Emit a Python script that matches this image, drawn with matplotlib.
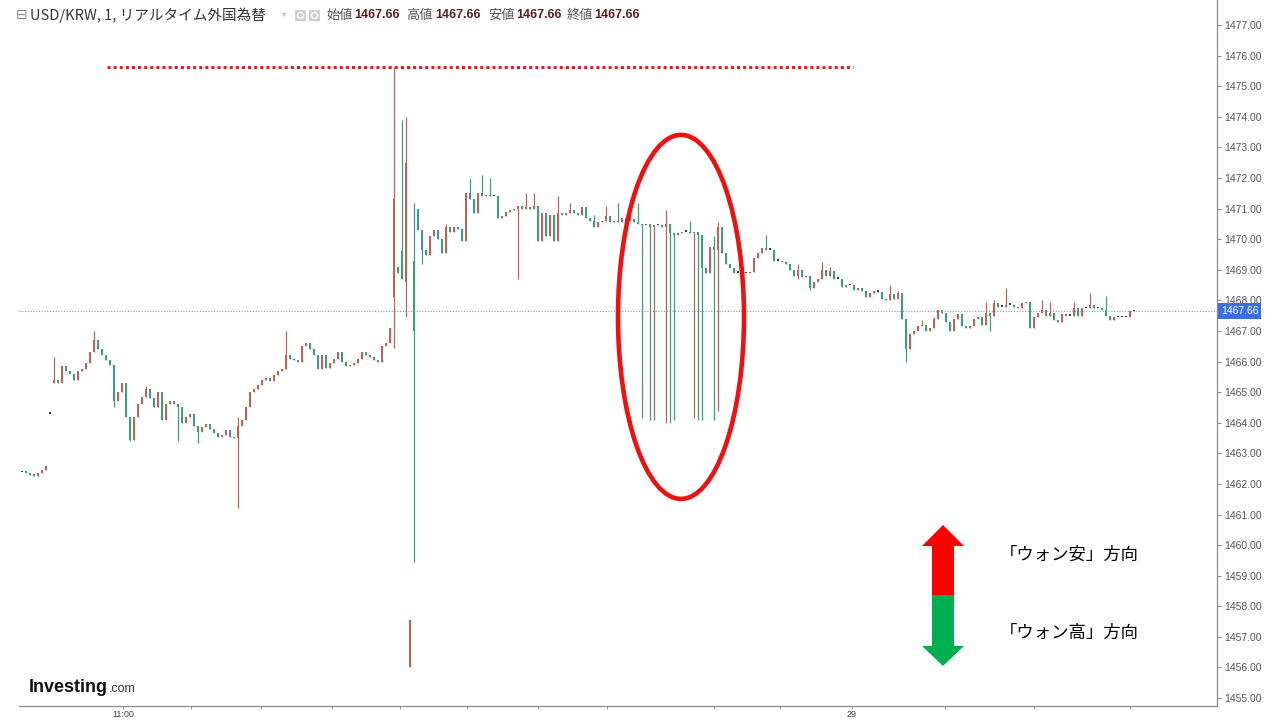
import matplotlib

matplotlib.use("Agg")

import matplotlib.pyplot as plt
import numpy as np
from matplotlib.patches import Ellipse, Polygon, Rectangle
from matplotlib.transforms import blended_transform_factory, offset_copy

# 1-minute USD/KRW closes left to right
closes = [
    1462.38, 1462.36, 1462.30, 1462.26, 1462.36, 1462.44, 1462.60, 1464.30, 1465.40, 1465.30,
    1465.85, 1465.70, 1465.60, 1465.40, 1465.70, 1465.75, 1465.95, 1466.30, 1466.70, 1466.40,
    1466.20, 1466.05, 1465.90, 1464.70, 1465.00, 1465.30, 1464.20, 1463.45, 1464.20, 1464.60,
    1464.85, 1465.10, 1464.80, 1464.50, 1465.00, 1464.10, 1464.60, 1464.70, 1464.60, 1464.50,
    1464.00, 1464.20, 1464.30, 1463.90, 1463.70, 1463.85, 1463.95, 1463.80, 1463.65, 1463.55,
    1463.60, 1463.75, 1463.55, 1463.50, 1463.90, 1464.10, 1464.50, 1465.00, 1465.10, 1465.25,
    1465.40, 1465.45, 1465.35, 1465.55, 1465.70, 1465.75, 1466.20, 1466.10, 1466.05, 1466.00,
    1466.50, 1466.60, 1466.40, 1466.20, 1465.75, 1466.20, 1465.80, 1465.95, 1466.10, 1466.30,
    1466.00, 1465.85, 1465.90, 1465.95, 1466.10, 1466.30, 1466.20, 1466.15, 1466.05, 1466.00,
    1466.50, 1466.60, 1467.10, 1471.30, 1468.90, 1468.70, 1472.50, 1457.55, 1467.00, 1470.30,
    1469.65, 1469.50, 1470.10, 1470.30, 1470.00, 1469.55, 1470.40, 1470.25, 1470.40, 1470.35,
    1469.95, 1471.50, 1471.30, 1470.85, 1471.50, 1471.40, 1471.45, 1471.40, 1471.40, 1470.70,
    1470.75, 1470.90, 1470.95, 1471.00, 1471.10, 1471.00, 1471.05, 1471.00, 1471.10, 1469.95,
    1470.85, 1470.10, 1470.80, 1469.95, 1470.85, 1470.80, 1470.85, 1470.95, 1470.85, 1470.80,
    1471.05, 1470.70, 1470.60, 1470.40, 1470.55, 1470.60, 1470.75, 1470.55, 1470.60, 1470.55,
    1470.70, 1470.60, 1470.65, 1470.55, 1470.50, 1470.45, 1470.50, 1470.40, 1470.45, 1470.45,
    1470.40, 1470.50, 1470.20, 1470.15, 1470.20, 1470.25, 1470.25, 1470.20, 1470.25, 1470.15,
    1469.05, 1468.90, 1469.75, 1469.65, 1470.40, 1469.55, 1469.20, 1469.05, 1468.90, 1468.90,
    1468.90, 1468.88, 1468.92, 1469.40, 1469.55, 1469.70, 1469.65, 1469.65, 1469.30, 1469.30,
    1469.25, 1469.20, 1469.00, 1468.80, 1469.00, 1468.75, 1468.80, 1468.40, 1468.60, 1468.70,
    1469.00, 1468.80, 1468.95, 1468.70, 1468.70, 1468.45, 1468.50, 1468.50, 1468.35, 1468.40,
    1468.30, 1468.10, 1468.25, 1468.30, 1468.28, 1468.05, 1468.00, 1468.20, 1468.05, 1468.25,
    1467.40, 1466.40, 1466.90, 1467.00, 1467.15, 1467.20, 1467.00, 1467.10, 1467.40, 1467.70,
    1467.60, 1467.30, 1467.00, 1467.40, 1467.55, 1467.15, 1467.10, 1467.15, 1467.40, 1467.45,
    1467.20, 1467.60, 1467.50, 1467.90, 1467.80, 1467.80, 1467.85, 1467.85, 1467.80, 1467.75,
    1467.90, 1467.95, 1467.10, 1467.45, 1467.60, 1467.70, 1467.50, 1467.60, 1467.35, 1467.30,
    1467.55, 1467.50, 1467.50, 1467.75, 1467.50, 1467.75, 1467.75, 1467.85, 1467.75, 1467.75,
    1467.70, 1467.50, 1467.35, 1467.45, 1467.45, 1467.45, 1467.45, 1467.65, 1467.66,
]

# bars whose open is not the previous close (gaps and spikes)
open_overrides = {
    0: 1462.38, 7: 1464.30, 8: 1465.30, 93: 1468.10, 94: 1469.10, 95: 1469.60,
    96: 1468.60, 97: 1456.00, 98: 1469.30, 99: 1471.00,
}

# visible wicks
high_overrides = {
    8: 1466.15, 18: 1467.00, 31: 1465.20, 54: 1464.20, 66: 1467.00, 93: 1475.62,
    95: 1473.90, 96: 1474.00, 98: 1471.20, 106: 1470.50, 112: 1472.00, 115: 1472.10,
    117: 1472.00, 126: 1471.50, 128: 1471.50, 134: 1471.40, 137: 1471.20, 143: 1470.80,
    146: 1471.10, 149: 1471.20, 152: 1471.30, 154: 1471.20, 161: 1470.95, 167: 1470.60,
    173: 1470.10, 174: 1470.55, 186: 1470.15, 194: 1469.20, 200: 1469.25, 202: 1469.10,
    217: 1468.50, 219: 1468.30, 225: 1467.35, 228: 1467.45, 241: 1467.95, 243: 1468.00,
    246: 1468.40, 255: 1468.00, 257: 1467.95, 263: 1467.95, 267: 1468.25, 271: 1468.15,
}
low_overrides = {
    23: 1464.50, 27: 1463.40, 39: 1463.40, 44: 1463.34, 54: 1461.20, 93: 1466.45,
    96: 1467.45, 97: 1456.00, 98: 1459.45, 100: 1469.20, 124: 1468.70, 155: 1464.15,
    157: 1464.10, 158: 1464.10, 161: 1464.00, 162: 1464.00, 163: 1464.10, 168: 1464.15,
    169: 1464.10, 170: 1464.10, 173: 1464.10, 174: 1464.40, 194: 1468.70, 197: 1468.35,
    221: 1466.00, 242: 1467.00,
}

last_price = 1467.66
spike_high = 1475.62
price_ticks = list(range(1455, 1478))
time_tick_bars = [25.25, 42.25, 59.75, 77.5, 94.5, 111.25, 129, 146.25, 173, 189.5, 207.5, 230.75, 253, 277]
time_tick_labels = ["11:00", "", "", "", "", "", "", "", "", "", "29", "", "", ""]
ohlc_names = ["始値", "高値", "安値", "終値"]
ohlc_values = [1467.66, 1467.66, 1467.66, 1467.66]

UP = "#b8645a"
DOWN = "#3a9f7a"
DOJI = "#3c3c3c"
JP = ["Noto Sans CJK JP", "DejaVu Sans"]

plt.rcParams["font.family"] = ["Liberation Sans", "DejaVu Sans"]


def fx(px: float) -> float:
    return px / 1280


def fy(py: float) -> float:
    return 1 - py / 720


def main() -> None:
    n = len(closes)
    c = np.array(closes)
    o = np.array([open_overrides.get(i, closes[i - 1] if i else closes[0]) for i in range(n)])
    hi = np.array([high_overrides.get(i, max(o[i], c[i])) for i in range(n)])
    lo = np.array([low_overrides.get(i, min(o[i], c[i])) for i in range(n)])
    x = np.arange(n)

    colors = []
    for oo, cc in zip(o, c):
        if abs(cc - oo) < 0.02:
            colors.append(DOJI)
        elif cc > oo:
            colors.append(UP)
        else:
            colors.append(DOWN)

    fig = plt.figure(figsize=(12.8, 7.2), dpi=100)
    ax = fig.add_axes([fx(19), 14 / 720, 1198 / 1280, 706 / 720])

    ax.axhline(last_price, color="#7b9cb6", lw=0.8, ls=(0, (1, 1.5)), zorder=1)
    ax.vlines(x, lo, hi, colors=colors, lw=0.9, zorder=2)
    ax.bar(x, np.maximum(np.abs(c - o), 0.05), bottom=np.minimum(o, c), width=0.5,
           color=colors, linewidth=0, zorder=3)

    ax.hlines(spike_high, 21.25, 207.75, colors="#e0201a", linestyles=(0, (1, 1)), lw=2.2, zorder=4)
    ax.add_patch(Ellipse((164.75, 1467.46), 31.5, 11.9, fill=False, ec="#ee1111", lw=3.3, zorder=5))

    ax.set_xlim(-0.75, 298.75)
    ax.set_ylim(1454.74, 1477.82)

    for side in ("left", "top"):
        ax.spines[side].set_visible(False)
    for side in ("right", "bottom"):
        ax.spines[side].set_color("#8a8a8a")
        ax.spines[side].set_linewidth(0.9)

    ax.yaxis.tick_right()
    ax.set_yticks(price_ticks, [f"{v:.2f}" for v in price_ticks])
    ax.tick_params(axis="y", length=3, width=0.8, color="#888888", labelsize=7.5,
                   labelcolor="#555555", pad=2)
    ax.set_xticks(time_tick_bars, time_tick_labels)
    ax.tick_params(axis="x", length=2.5, width=0.8, color="#999999", labelsize=6.5,
                   labelcolor="#444444", pad=0.3)

    trans = blended_transform_factory(ax.transAxes, ax.transData)
    ax.text(1.0, last_price, f"{last_price:.2f}", transform=offset_copy(trans, fig, x=4, units="dots"),
            ha="left", va="center", fontsize=7.5, color="white", clip_on=False, zorder=10,
            bbox=dict(boxstyle="square,pad=0.28", fc="#3d6fdc", ec="none"))

    # header line
    fig.text(fx(16), fy(15), "⊟", fontsize=10, color="#888888", va="center", family="DejaVu Sans")
    fig.text(fx(30), fy(15), "USD/KRW, 1, リアルタイム外国為替", fontsize=10.5, color="#333333",
             va="center", family=JP)
    fig.text(fx(282), fy(14), "▾", fontsize=6, color="#bbbbbb", va="center", family="DejaVu Sans")
    for left in (295, 309):
        fig.add_artist(Rectangle((fx(left), fy(21)), 11 / 1280, 11 / 720, transform=fig.transFigure,
                                 fc="#cfcfcf", ec="none"))
        fig.add_artist(Ellipse((fx(left + 5.5), fy(15.5)), 6 / 1280, 6 / 720, transform=fig.transFigure,
                               fc="none", ec="white", lw=1))
    for name, value, lx, vx in zip(ohlc_names, ohlc_values, (326, 406, 488, 567), (354, 435, 516, 594)):
        fig.text(fx(lx), fy(15), name, fontsize=9.5, color="#555555", va="center", family=JP)
        fig.text(fx(vx), fy(15), f"{value:.2f}", fontsize=9, color="#5c1f1f", va="center",
                 weight="bold")

    # logo
    fig.text(fx(29), fy(692), "Investing", fontsize=13, weight="bold", color="#111111", va="baseline")
    fig.text(fx(109), fy(692), ".com", fontsize=9, color="#333333", va="baseline")

    # direction arrow and captions
    red_arrow = [(943, 525), (964, 546), (954, 546), (954, 595), (932, 595), (932, 546), (922, 546)]
    green_arrow = [(932, 595), (954, 595), (954, 646), (964, 646), (943, 666), (922, 646), (932, 646)]
    for pts, col in ((red_arrow, "#ff0000"), (green_arrow, "#00b050")):
        fig.add_artist(Polygon([(fx(a), fy(b)) for a, b in pts], closed=True,
                               transform=fig.transFigure, fc=col, ec="none"))
    fig.text(fx(1000), fy(555), "「ウォン安」方向", fontsize=12.5, color="black", va="center", family=JP)
    fig.text(fx(1000), fy(633), "「ウォン高」方向", fontsize=12.5, color="black", va="center", family=JP)

    fig.savefig("out.png", dpi=100)
    plt.close(fig)


if __name__ == "__main__":
    main()
